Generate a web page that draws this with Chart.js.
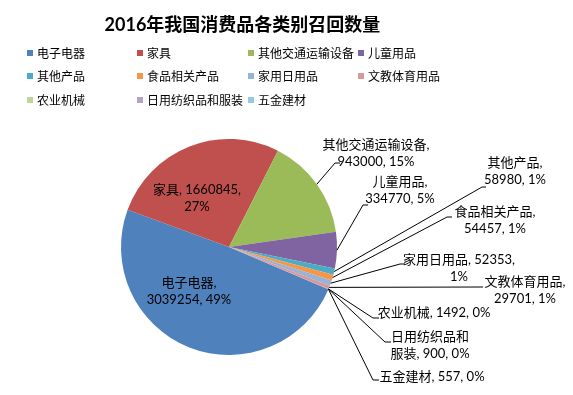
<!DOCTYPE html>
<html>
<head>
<meta charset="utf-8">
<script src="https://cdn.jsdelivr.net/npm/chart.js@4"></script>
<style>
  body { margin: 0; background: #fff; }
  #wrap { position: relative; width: 573px; height: 395px; font-family: "Lato", "Noto Sans CJK SC", sans-serif; }
  #chartTitle { position: absolute; left: 0; width: 485px; top: 10px; text-align: center; font-size: 18px; font-weight: bold; color: #000; }
  .legendItem { position: absolute; font-size: 12px; color: #000; white-space: nowrap; line-height: 16px; }
  .legendItem i { display: inline-block; width: 6px; height: 6px; margin-right: 4px; vertical-align: 2px; }
  canvas { position: absolute; left: 0; top: 0; }
</style>
</head>
<body>
<div id="wrap">
  <canvas id="recallChart" width="573" height="395"></canvas>
  <div id="chartTitle">2016年我国消费品各类别召回数量</div>
  <div id="legend"></div>
</div>
<script>
// --- Data ---
const categories = [
    "电子电器", "家具", "其他交通运输设备", "儿童用品",
    "其他产品", "食品相关产品", "家用日用品", "文教体育用品",
    "农业机械", "日用纺织品和服装", "五金建材"
];
const recallCounts = [3039254, 1660845, 943000, 334770, 58980, 54457, 52353, 29701, 1492, 900, 557];
const percentLabels = ["49%", "27%", "15%", "5%", "1%", "1%", "1%", "1%", "0%", "0%", "0%"];
const sliceColors = [
    "#4F81BD", "#C0504D", "#9BBB59", "#8064A2",
    "#4BACC6", "#F79646", "#97B3D8", "#D99795",
    "#C0D59A", "#B1A2C8", "#93CDDD"
];

// --- Label layout (text centre x, first line y, optional leader elbow) ---
const labelText = [
    ["电子电器,", "3039254, 49%"],
    ["家具, 1660845,", "27%"],
    ["其他交通运输设备,", "943000, 15%"],
    ["儿童用品,", "334770, 5%"],
    ["其他产品,", "58980, 1%"],
    ["食品相关产品,", "54457, 1%"],
    ["家用日用品, 52353,", "1%"],
    ["文教体育用品,", "29701, 1%"],
    ["农业机械, 1492, 0%"],
    ["日用纺织品和", "服装, 900, 0%"],
    ["五金建材, 557, 0%"]
];
const labelPos = [
    { x: 189, y: 283 },
    { x: 197, y: 190 },
    { x: 376, y: 145, elbow: [335, 163], end: 340 },
    { x: 400, y: 182, elbow: [363, 205], end: 368 },
    { x: 515, y: 163, elbow: [482, 187], end: 486 },
    { x: 495, y: 212, elbow: [447, 217], end: 452 },
    { x: 459, y: 260, elbow: [400, 264], end: 405 },
    { x: 525, y: 282, elbow: [480, 287], end: 483 },
    { x: 434, y: 313, elbow: [373, 318], end: 379 },
    { x: 430, y: 337, elbow: [385, 342], end: 391 },
    { x: 432, y: 377, elbow: [373, 380], end: 379 }
];

// --- Legend (fixed 4-column grid like the original) ---
const legendCols = [27, 137, 248, 358];
const legendRows = [46, 69, 93];
const legendEl = document.getElementById("legend");
categories.forEach((name, i) => {
    const item = document.createElement("div");
    item.className = "legendItem";
    item.style.left = legendCols[i % 4] + "px";
    item.style.top = legendRows[Math.floor(i / 4)] + "px";
    item.innerHTML = '<i style="background:' + sliceColors[i] + '"></i>' + name;
    legendEl.appendChild(item);
});

// --- Data label plugin ---
const sliceLabelPlugin = {
    id: "sliceLabels",
    afterDatasetsDraw(chart) {
        const ctx = chart.ctx;
        const arcs = chart.getDatasetMeta(0).data;
        ctx.save();
        ctx.font = '13px "Lato", "Noto Sans CJK SC", sans-serif';
        ctx.fillStyle = "#000";
        ctx.textAlign = "center";
        ctx.textBaseline = "middle";
        arcs.forEach((arc, i) => {
            const pos = labelPos[i];
            if (pos.elbow) {
                const mid = (arc.startAngle + arc.endAngle) / 2;
                const sx = arc.x + Math.cos(mid) * arc.outerRadius;
                const sy = arc.y + Math.sin(mid) * arc.outerRadius;
                ctx.strokeStyle = "#000";
                ctx.lineWidth = 1;
                ctx.beginPath();
                ctx.moveTo(sx, sy);
                ctx.lineTo(pos.elbow[0], pos.elbow[1]);
                ctx.lineTo(pos.end, pos.elbow[1]);
                ctx.stroke();
            }
            labelText[i].forEach((line, k) => {
                ctx.fillText(line, pos.x, pos.y + k * 17);
            });
        });
        ctx.restore();
    },
};

// --- Chart ---
const ctx = document.getElementById("recallChart").getContext("2d");
const recallChart = new Chart(ctx, {
    type: "pie",
    data: {
        labels: categories,
        datasets: [
            {
                data: recallCounts,
                backgroundColor: sliceColors,
                borderWidth: 0,
                hoverOffset: 0,
                radius: 108,
            },
        ],
    },
    options: {
        responsive: false,
        animation: false,
        rotation: 113, // first slice starts below the right side, like Excel
        layout: {
            padding: { left: 121, right: 236, top: 139, bottom: 40 },
        },
        plugins: {
            legend: { display: false },
            tooltip: { enabled: false },
            title: { display: false },
        },
    },
    plugins: [sliceLabelPlugin],
});
</script>
</body>
</html>
